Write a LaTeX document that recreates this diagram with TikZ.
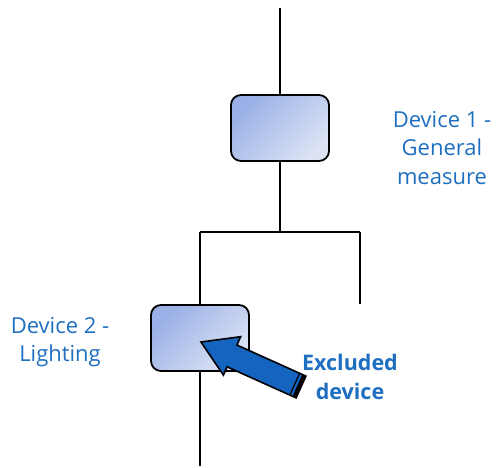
\documentclass[tikz,border=0pt]{standalone}
\usepackage{fontspec}
\setmainfont{Open Sans}
\usetikzlibrary{calc}
\definecolor{lblue}{HTML}{1F6FC1}
\definecolor{boxdark}{HTML}{9AB0E6}
\definecolor{boxlight}{HTML}{DCE3F5}
\definecolor{arrowblue}{HTML}{1565C0}
\tikzset{
  devbox/.style={draw=black, line width=1.8pt, rounded corners=10pt,
    minimum width=98pt, minimum height=66pt, inner sep=0pt,
    top color=boxdark, bottom color=boxlight, shading angle=45},
  wire/.style={draw=black, line width=1.5pt},
  lbl/.style={text=lblue, font=\fontsize{22}{28.5}\selectfont, align=center, inner sep=0pt},
  blbl/.style={lbl, font=\fontsize{21.5}{28.5}\selectfont\bfseries}
}
\begin{document}
\begin{tikzpicture}[x=1pt,y=-1pt]
\useasboundingbox (0,0) rectangle (499,467);
% devices
\node[devbox] (d1) at (280,128) {};
\node[devbox] (d2) at (200,338) {};
% wiring
\coordinate (top) at (280,8);
\coordinate (jl) at (200,232);
\coordinate (jm) at (280,232);
\coordinate (jr) at (360,232);
\coordinate (rend) at (360,304);
\coordinate (bot) at (200,466);
\draw[wire] (top) -- (d1.north);
\draw[wire] (d1.south) -- (jm);
\draw[wire] (jl) -- (jr);
\draw[wire] (jl) -- (d2.north);
\draw[wire] (jr) -- (rend);
\draw[wire] (d2.south) -- (bot);
% labels
\node[lbl] (l1) at (442,148) {Device 1 -\\General\\measure};
\node[lbl] (l2) at (60,342) {Device 2 -\\Lighting};
\node[blbl] (l3) at (350,377) {Excluded\\device};
% block arrow
\coordinate (tip) at (201,342);
\coordinate (b1) at (240.6,336.7);
\coordinate (b2) at (223.4,375.1);
\coordinate (s1) at (236.9,345.0);
\coordinate (s2) at (227.1,366.8);
\coordinate (t1) at (305.9,376.1);
\coordinate (t2) at (296.1,397.9);
\coordinate (u1) at (302.3,374.5);
\coordinate (u2) at (292.5,396.3);
\coordinate (v1) at (299.6,373.3);
\coordinate (v2) at (289.8,395.1);
\draw[fill=arrowblue, draw=black, line width=1.6pt, line join=miter]
  (tip) -- (b1) -- (s1) -- (t1) -- (t2) -- (s2) -- (b2) -- cycle;
\fill[black] (u1) -- (t1) -- (t2) -- (u2) -- cycle;
\draw[black, line width=1.2pt] (v1) -- (v2);
\end{tikzpicture}
\end{document}
